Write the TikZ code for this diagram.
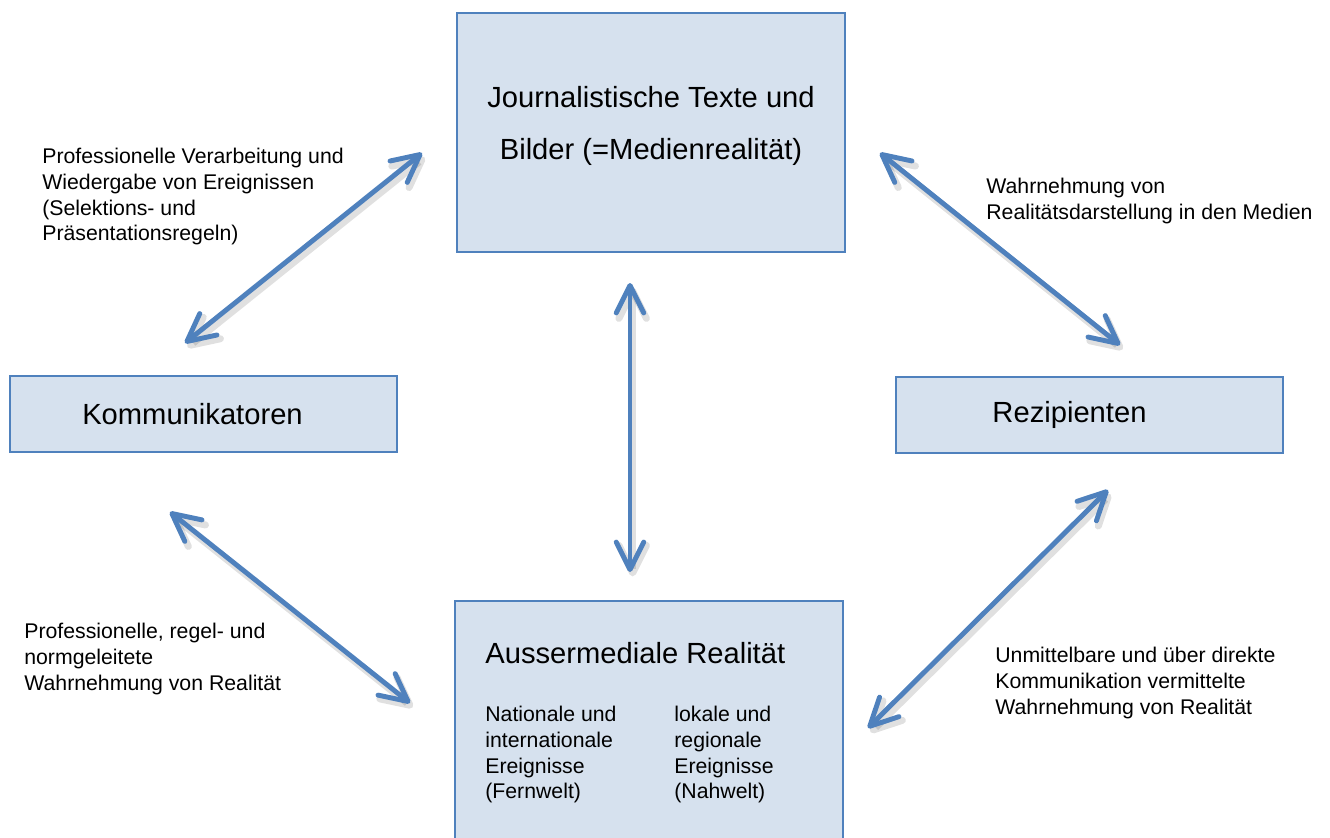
\documentclass[tikz,border=0pt]{standalone}
\usepackage{fontspec}
\setmainfont{Liberation Sans}
\usetikzlibrary{arrows.meta}
\definecolor{boxblue}{RGB}{214,225,238}
\definecolor{lineblue}{RGB}{79,129,189}

\begin{document}
\begin{tikzpicture}[x=0.02cm, y=-0.02cm,
    box/.style={draw=lineblue, line width=0.8pt, fill=boxblue, inner sep=0pt},
    big/.style={font=\fontsize{16.6}{29.6}\selectfont},
    small/.style={font=\fontsize{12.1}{14.6}\selectfont, align=left, anchor=north west, inner sep=0pt},
    link/.style={draw=lineblue, line width=2.8pt, line cap=round,
        {Straight Barb[length=5.5mm, width=5.5mm, round]}-{Straight Barb[length=5.5mm, width=5.5mm, round]},
        preaction={draw=black, opacity=.12, line width=4pt, transform canvas={shift={(1.5pt,-2.5pt)}}}}]

    \useasboundingbox (0,0) rectangle (1330,838);

    % boxes
    \node[box, big, align=center, minimum width=7.76cm, minimum height=4.78cm] (medien) at (651,132.5) {Journalistische Texte und\\Bilder (=Medienrealität)\\[-19pt]\mbox{}};
    \node[box, big, minimum width=7.74cm, minimum height=1.52cm] (komm) at (203.5,414) {Kommunikatoren\kern0.44cm};
    \node[box, big, minimum width=7.74cm, minimum height=1.52cm] (rezi) at (1089.5,415) {Rezipienten\kern0.8cm};
    \node[box, minimum width=7.76cm, minimum height=5.2cm] (real) at (649,731) {};

    \node[big, anchor=west, inner sep=0pt] (realtitle) at (485,653) {Aussermediale Realität};
    \node[small] (fern) at (485,706) {Nationale und\\internationale\\Ereignisse\\(Fernwelt)};
    \node[small] (nah) at (674,706) {lokale und\\regionale\\Ereignisse\\(Nahwelt)};

    % labels
    \node[small] (lab1) at (42,148) {Professionelle Verarbeitung und\\Wiedergabe von Ereignissen\\(Selektions- und\\Präsentationsregeln)};
    \node[small] (lab2) at (986,178) {Wahrnehmung von\\Realitätsdarstellung in den Medien};
    \node[small] (lab3) at (24,623) {Professionelle, regel- und\\normgeleitete\\Wahrnehmung von Realität};
    \node[small] (lab4) at (995,647) {Unmittelbare und über direkte\\Kommunikation vermittelte\\Wahrnehmung von Realität};

    % arrow ends
    \coordinate (k1) at (185,343);  \coordinate (m1) at (422,153);
    \coordinate (m2) at (880,153);  \coordinate (r1) at (1120,345);
    \coordinate (m3) at (630,283);  \coordinate (a1) at (630,572);
    \coordinate (k2) at (170,512);  \coordinate (a2) at (410,703);
    \coordinate (r2) at (1108,490); \coordinate (a3) at (868,728);

    \draw[link] (k1) -- (m1);
    \draw[link] (m2) -- (r1);
    \draw[link] (m3) -- (a1);
    \draw[link] (k2) -- (a2);
    \draw[link] (r2) -- (a3);

\end{tikzpicture}
\end{document}
